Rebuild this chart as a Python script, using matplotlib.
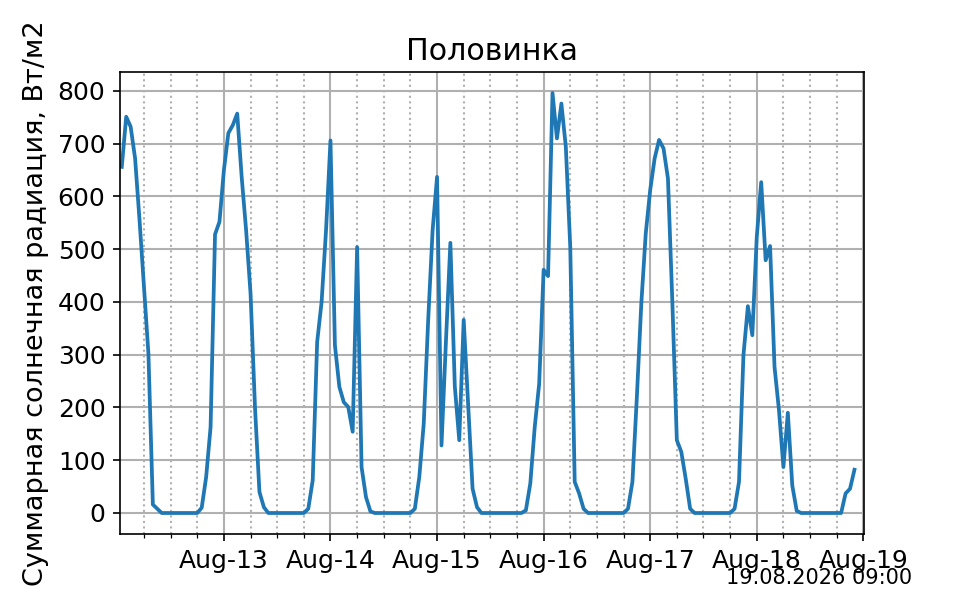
import numpy as np
import pandas as pd
import matplotlib
matplotlib.use("Agg")
import matplotlib.pyplot as plt
import matplotlib.dates as mdates

plt.rcParams['font.size'] = 12

STATION = "Половинка"
STAMP = "19.08.2026 09:00"
Y_LABEL = "Суммарная солнечная радиация, Вт/м2"

# hourly values, W/m2 (Aug-12 starts at 01:00, Aug-18 ends at 22:00)
aug12 = [656, 751, 732, 672, 555, 428, 302, 16, 8, 0, 0, 0,
         0, 0, 0, 0, 0, 0, 10, 68, 163, 528, 552]
aug13 = [650, 720, 735, 757, 637, 536, 416, 200, 40, 11, 0, 0,
         0, 0, 0, 0, 0, 0, 0, 8, 62, 324, 400, 536]
aug14 = [706, 318, 239, 210, 201, 154, 504, 87, 30, 3, 0, 0,
         0, 0, 0, 0, 0, 0, 0, 8, 68, 169, 365, 536]
aug15 = [637, 128, 325, 512, 240, 138, 366, 204, 46, 11, 0, 0,
         0, 0, 0, 0, 0, 0, 0, 0, 5, 56, 163, 245]
aug16 = [461, 449, 796, 710, 776, 694, 504, 59, 37, 8, 0, 0,
         0, 0, 0, 0, 0, 0, 0, 8, 59, 220, 397, 530]
aug17 = [612, 672, 707, 691, 634, 397, 138, 116, 65, 8, 0, 0,
         0, 0, 0, 0, 0, 0, 0, 8, 59, 299, 392, 337]
aug18 = [523, 627, 479, 506, 277, 195, 87, 190, 52, 4, 0, 0,
         0, 0, 0, 0, 0, 0, 0, 0, 37, 46, 82]

values = aug12 + aug13 + aug14 + aug15 + aug16 + aug17 + aug18
times = pd.date_range("2026-08-12 01:00", periods=len(values), freq="h")

fig, ax = plt.subplots(figsize=(6.4, 4), dpi=150)
ax.plot(times, values, color="C0", linewidth=1.8)

ax.set_xlim(pd.Timestamp("2026-08-12 00:36"), pd.Timestamp("2026-08-19 00:09"))
ax.xaxis.set_major_locator(mdates.DayLocator())
ax.xaxis.set_major_formatter(mdates.DateFormatter("%b-%d"))
ax.xaxis.set_minor_locator(mdates.HourLocator(byhour=[6, 12, 18]))

ax.grid(True, which="major", color="#b0b0b0", linewidth=1.0)
ax.grid(True, which="minor", axis="x", linestyle=":", color="#b0b0b0", linewidth=1.0)

ax.set_title(STATION)
ax.set_ylabel(Y_LABEL, fontsize=13)
fig.text(0.95, 0.02, STAMP, ha="right", va="bottom", fontsize=10)

fig.savefig("out.png", dpi=150)
